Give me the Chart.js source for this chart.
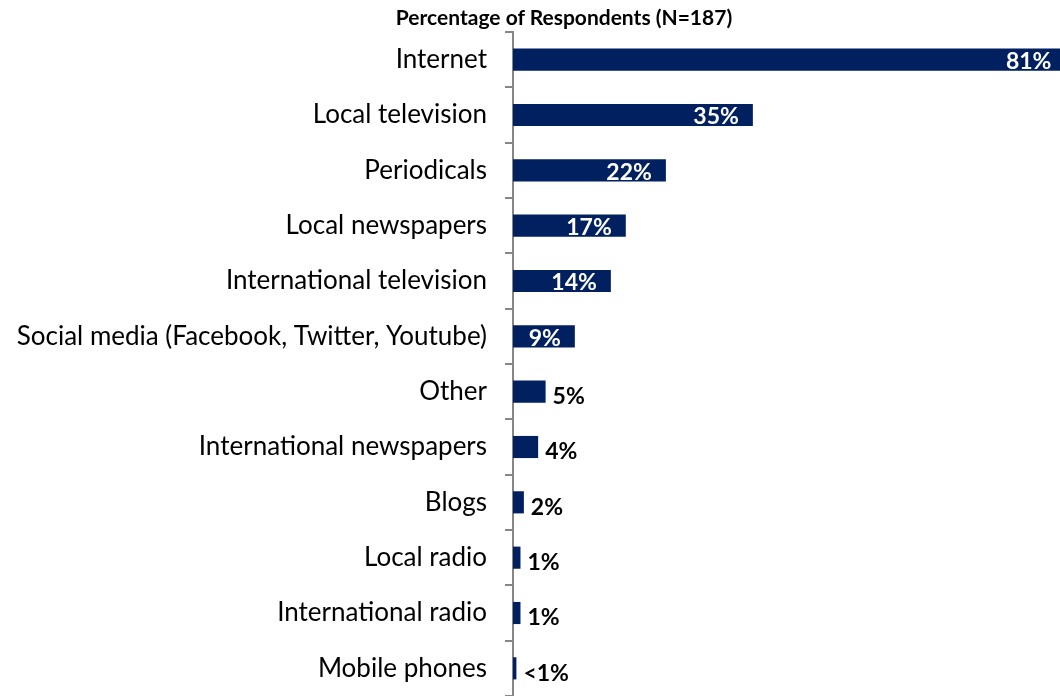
<!DOCTYPE html>
<html>
<head>
<meta charset="utf-8">
<title>Percentage of Respondents</title>
<script src="https://cdn.jsdelivr.net/npm/chart.js@4"></script>
<style>
    body { margin: 0; background: #fff; }
    #wrap { position: relative; width: 1060px; height: 696px; }
    #title {
        position: absolute; top: 6px; left: 564px; transform: translateX(-50%);
        font: bold 21px Lato, sans-serif; line-height: 22px; color: #000; white-space: nowrap;
    }
</style>
</head>
<body>
<div id="wrap">
    <div id="title">Percentage of Respondents (N=187)</div>
    <canvas id="mediaChart" width="1060" height="696"></canvas>
</div>
<script>
// Chart data
const categories = [
    'Internet', 'Local television', 'Periodicals', 'Local newspapers',
    'International television', 'Social media (Facebook, Twitter, Youtube)',
    'Other', 'International newspapers', 'Blogs', 'Local radio',
    'International radio', 'Mobile phones'
];
const percentages = [81.3, 35.3, 22.5, 16.6, 14.4, 9.1, 4.8, 3.7, 1.6, 1.1, 1.1, 0.5];
const valueLabels = ['81%', '35%', '22%', '17%', '14%', '9%', '5%', '4%', '2%', '1%', '1%', '<1%'];

// Labels at the bar ends: white inside long bars, black outside short ones
const barLabels = {
    id: 'barLabels',
    afterDatasetsDraw(chart) {
        const ctx = chart.ctx;
        const meta = chart.getDatasetMeta(0);
        ctx.save();
        ctx.font = 'bold 23px Lato, sans-serif';
        ctx.textBaseline = 'middle';
        meta.data.forEach((bar, i) => {
            if (percentages[i] >= 9) {
                ctx.fillStyle = '#fff';
                ctx.textAlign = 'right';
                ctx.fillText(valueLabels[i], bar.x - 14, bar.y + 2);
            } else {
                ctx.fillStyle = '#000';
                ctx.textAlign = 'left';
                ctx.fillText(valueLabels[i], bar.x + 7, bar.y + 5);
            }
        });
        ctx.restore();
    }
};

new Chart(document.getElementById('mediaChart'), {
    type: 'bar',
    data: {
        labels: categories,
        datasets: [{
            data: percentages,
            backgroundColor: '#002060',
            categoryPercentage: 1,
            barPercentage: 0.4
        }]
    },
    options: {
        indexAxis: 'y',
        responsive: false,
        animation: false,
        layout: { padding: { top: 32, right: 0, bottom: 0, left: 0 } },
        plugins: {
            legend: { display: false },
            tooltip: { enabled: false }
        },
        scales: {
            x: { display: false, min: 0, max: 80.5 },
            y: {
                afterFit(scale) {
                    scale.width = 513;
                    scale.paddingTop = 0;
                    scale.paddingBottom = 0;
                },
                border: { display: true, color: '#868686', width: 2 },
                grid: {
                    drawOnChartArea: false,
                    drawTicks: true,
                    tickLength: 8,
                    color: '#868686',
                    lineWidth: 2
                },
                ticks: {
                    color: '#000',
                    padding: 18,
                    font: { family: 'Lato', size: 26 }
                }
            }
        }
    },
    plugins: [barLabels]
});
</script>
</body>
</html>
